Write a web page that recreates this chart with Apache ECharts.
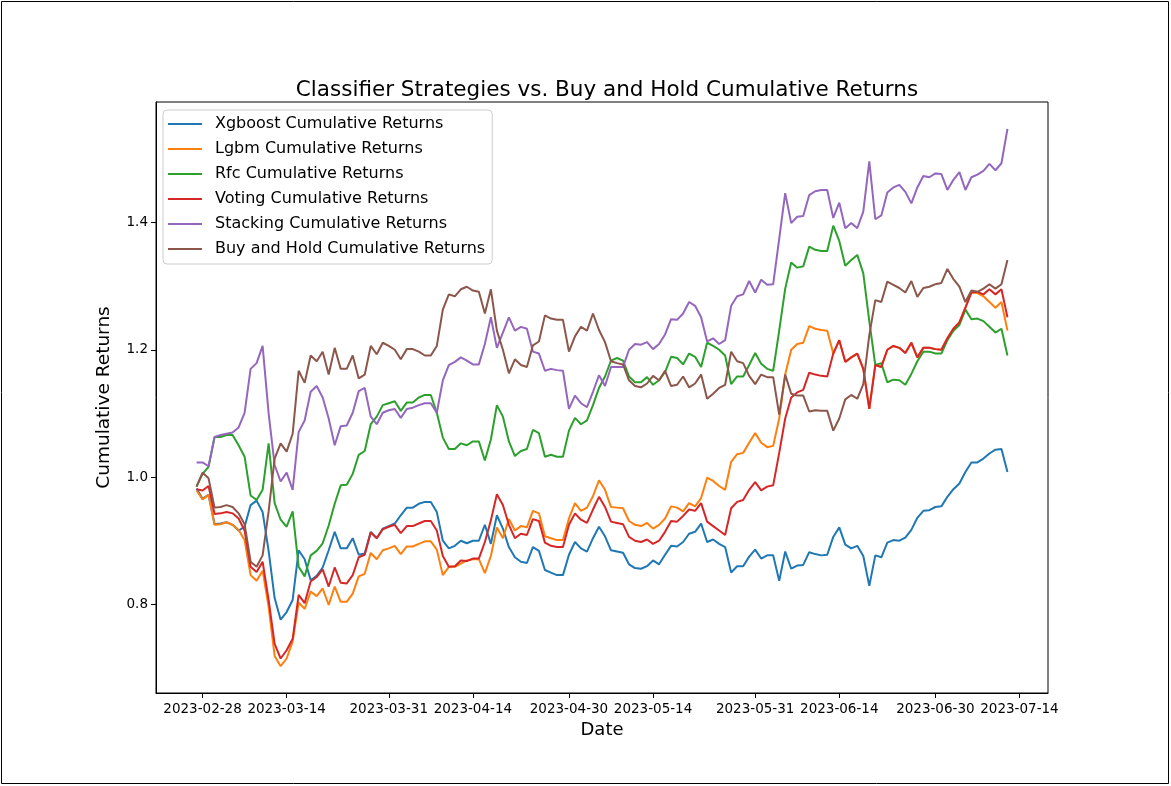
<!DOCTYPE html>
<html>
<head>
<meta charset="utf-8">
<script src="https://cdn.jsdelivr.net/npm/echarts@6/dist/echarts.min.js"></script>
<style>
  html, body { margin: 0; padding: 0; background: #fff; }
  #chart { width: 1171px; height: 786px; }
</style>
</head>
<body>
<div id="chart"></div>
<script>
// daily points, first one on 2023-02-27
const startDate = '2023-02-27';
const tickLabels = ['2023-02-28', '2023-03-14', '2023-03-31', '2023-04-14', '2023-04-30',
  '2023-05-14', '2023-05-31', '2023-06-14', '2023-06-30', '2023-07-14'];
const yTicks = [0.8, 1.0, 1.2, 1.4];

const xgboost = [0.982, 0.966, 0.972, 0.926, 0.927, 0.929, 0.925, 0.916, 0.922, 0.956, 0.963, 0.945,
  0.884, 0.810, 0.776, 0.788, 0.807, 0.885, 0.871, 0.838, 0.845, 0.858, 0.885, 0.914, 0.888, 0.888,
  0.904, 0.878, 0.880, 0.914, 0.904, 0.919, 0.923, 0.927, 0.940, 0.952, 0.952, 0.958, 0.961, 0.961,
  0.945, 0.900, 0.888, 0.892, 0.900, 0.896, 0.900, 0.900, 0.925, 0.895, 0.940, 0.919, 0.890, 0.874,
  0.867, 0.865, 0.890, 0.884, 0.854, 0.850, 0.846, 0.846, 0.878, 0.898, 0.888, 0.883, 0.904, 0.922,
  0.907, 0.885, 0.883, 0.881, 0.863, 0.857, 0.856, 0.860, 0.869, 0.863, 0.878, 0.892, 0.891, 0.898,
  0.911, 0.914, 0.927, 0.898, 0.902, 0.895, 0.890, 0.850, 0.860, 0.860, 0.875, 0.886, 0.872, 0.877,
  0.877, 0.837, 0.883, 0.856, 0.861, 0.862, 0.882, 0.879, 0.877, 0.878, 0.906, 0.921, 0.894, 0.888,
  0.892, 0.876, 0.829, 0.877, 0.874, 0.897, 0.901, 0.900, 0.905, 0.917, 0.936, 0.947, 0.948, 0.953,
  0.954, 0.969, 0.981, 0.990, 1.008, 1.023, 1.023, 1.029, 1.037, 1.043, 1.044, 1.008];

const lgbm = [0.979, 0.965, 0.972, 0.925, 0.926, 0.929, 0.925, 0.917, 0.901, 0.846, 0.837, 0.853,
  0.796, 0.719, 0.703, 0.715, 0.742, 0.803, 0.793, 0.820, 0.813, 0.825, 0.799, 0.828, 0.804, 0.804,
  0.817, 0.844, 0.848, 0.881, 0.871, 0.885, 0.888, 0.892, 0.879, 0.891, 0.891, 0.895, 0.899, 0.899,
  0.886, 0.846, 0.859, 0.859, 0.864, 0.869, 0.871, 0.871, 0.849, 0.876, 0.921, 0.904, 0.934, 0.916,
  0.923, 0.921, 0.947, 0.943, 0.907, 0.904, 0.901, 0.901, 0.935, 0.959, 0.947, 0.952, 0.970, 0.995,
  0.980, 0.953, 0.952, 0.951, 0.931, 0.925, 0.923, 0.928, 0.919, 0.925, 0.935, 0.954, 0.952, 0.946,
  0.959, 0.954, 0.967, 0.999, 0.994, 0.986, 0.980, 1.024, 1.036, 1.038, 1.054, 1.069, 1.054, 1.047,
  1.049, 1.092, 1.161, 1.200, 1.209, 1.211, 1.237, 1.233, 1.231, 1.230, 1.194, 1.215, 1.181, 1.188,
  1.194, 1.170, 1.107, 1.176, 1.173, 1.200, 1.206, 1.203, 1.195, 1.211, 1.188, 1.203, 1.203, 1.201,
  1.200, 1.218, 1.233, 1.243, 1.266, 1.290, 1.289, 1.284, 1.275, 1.266, 1.275, 1.230];

const rfc = [0.985, 1.005, 1.016, 1.063, 1.063, 1.066, 1.066, 1.050, 1.032, 0.971, 0.964, 0.980,
  1.053, 0.959, 0.933, 0.922, 0.946, 0.859, 0.844, 0.877, 0.884, 0.896, 0.924, 0.958, 0.987, 0.988,
  1.005, 1.035, 1.041, 1.083, 1.095, 1.113, 1.116, 1.119, 1.104, 1.117, 1.117, 1.125, 1.129, 1.129,
  1.101, 1.062, 1.044, 1.044, 1.053, 1.050, 1.056, 1.056, 1.026, 1.059, 1.113, 1.095, 1.056, 1.033,
  1.041, 1.044, 1.074, 1.069, 1.032, 1.035, 1.032, 1.032, 1.073, 1.093, 1.083, 1.089, 1.113, 1.140,
  1.158, 1.183, 1.187, 1.183, 1.158, 1.149, 1.149, 1.157, 1.145, 1.152, 1.165, 1.189, 1.187, 1.177,
  1.194, 1.189, 1.173, 1.211, 1.206, 1.200, 1.191, 1.146, 1.158, 1.158, 1.176, 1.195, 1.178, 1.170,
  1.167, 1.230, 1.296, 1.337, 1.329, 1.331, 1.362, 1.357, 1.355, 1.355, 1.395, 1.371, 1.332, 1.341,
  1.349, 1.320, 1.245, 1.176, 1.179, 1.149, 1.153, 1.152, 1.145, 1.162, 1.182, 1.197, 1.197, 1.194,
  1.194, 1.215, 1.230, 1.239, 1.263, 1.248, 1.249, 1.245, 1.236, 1.227, 1.233, 1.191];

const voting = [0.981, 0.979, 0.986, 0.942, 0.943, 0.945, 0.943, 0.935, 0.916, 0.859, 0.851, 0.867,
  0.807, 0.738, 0.715, 0.728, 0.746, 0.815, 0.802, 0.836, 0.843, 0.855, 0.828, 0.858, 0.834, 0.833,
  0.846, 0.874, 0.878, 0.913, 0.904, 0.918, 0.922, 0.925, 0.912, 0.923, 0.923, 0.927, 0.931, 0.931,
  0.916, 0.876, 0.859, 0.860, 0.869, 0.868, 0.872, 0.872, 0.898, 0.932, 0.973, 0.956, 0.925, 0.904,
  0.911, 0.909, 0.934, 0.931, 0.897, 0.892, 0.890, 0.890, 0.925, 0.943, 0.933, 0.928, 0.949, 0.969,
  0.953, 0.930, 0.928, 0.926, 0.906, 0.900, 0.898, 0.902, 0.895, 0.900, 0.914, 0.931, 0.930, 0.939,
  0.949, 0.947, 0.959, 0.930, 0.923, 0.916, 0.909, 0.951, 0.961, 0.964, 0.980, 0.992, 0.979, 0.985,
  0.987, 1.038, 1.092, 1.125, 1.133, 1.137, 1.164, 1.161, 1.159, 1.158, 1.194, 1.215, 1.181, 1.188,
  1.194, 1.170, 1.107, 1.176, 1.173, 1.200, 1.206, 1.203, 1.195, 1.211, 1.188, 1.203, 1.203, 1.201,
  1.200, 1.218, 1.233, 1.243, 1.266, 1.290, 1.291, 1.287, 1.295, 1.287, 1.295, 1.251];

const stacking = [1.023, 1.023, 1.017, 1.063, 1.066, 1.068, 1.070, 1.078, 1.101, 1.170, 1.179, 1.206,
  1.100, 1.019, 0.993, 1.007, 0.980, 1.071, 1.089, 1.134, 1.143, 1.125, 1.092, 1.050, 1.080, 1.081,
  1.101, 1.135, 1.140, 1.095, 1.083, 1.101, 1.105, 1.107, 1.093, 1.107, 1.109, 1.113, 1.116, 1.116,
  1.101, 1.152, 1.176, 1.181, 1.188, 1.183, 1.177, 1.177, 1.209, 1.251, 1.203, 1.227, 1.251, 1.230,
  1.236, 1.233, 1.197, 1.194, 1.167, 1.170, 1.168, 1.167, 1.107, 1.128, 1.116, 1.110, 1.134, 1.160,
  1.143, 1.173, 1.173, 1.173, 1.200, 1.209, 1.208, 1.212, 1.201, 1.209, 1.224, 1.248, 1.247, 1.257,
  1.275, 1.269, 1.251, 1.213, 1.218, 1.209, 1.215, 1.269, 1.284, 1.287, 1.308, 1.290, 1.310, 1.302,
  1.303, 1.374, 1.446, 1.399, 1.409, 1.410, 1.443, 1.449, 1.451, 1.451, 1.407, 1.431, 1.391, 1.399,
  1.391, 1.417, 1.496, 1.405, 1.411, 1.447, 1.455, 1.459, 1.448, 1.430, 1.455, 1.473, 1.471, 1.477,
  1.476, 1.451, 1.467, 1.479, 1.451, 1.471, 1.475, 1.481, 1.492, 1.482, 1.493, 1.547];

const buyHold = [0.985, 1.007, 0.998, 0.952, 0.953, 0.956, 0.953, 0.943, 0.926, 0.867, 0.859, 0.877,
  0.946, 1.029, 1.053, 1.040, 1.068, 1.167, 1.148, 1.191, 1.182, 1.197, 1.161, 1.203, 1.170, 1.170,
  1.191, 1.155, 1.161, 1.206, 1.193, 1.211, 1.206, 1.200, 1.185, 1.201, 1.201, 1.197, 1.191, 1.191,
  1.206, 1.263, 1.287, 1.284, 1.295, 1.299, 1.293, 1.291, 1.257, 1.295, 1.230, 1.200, 1.163, 1.185,
  1.176, 1.173, 1.207, 1.213, 1.254, 1.249, 1.247, 1.247, 1.197, 1.221, 1.236, 1.230, 1.257, 1.231,
  1.212, 1.182, 1.179, 1.177, 1.152, 1.143, 1.141, 1.147, 1.159, 1.152, 1.167, 1.143, 1.145, 1.158,
  1.141, 1.147, 1.161, 1.123, 1.131, 1.140, 1.145, 1.197, 1.182, 1.179, 1.159, 1.146, 1.161, 1.157,
  1.157, 1.098, 1.161, 1.131, 1.128, 1.128, 1.103, 1.105, 1.104, 1.104, 1.073, 1.092, 1.122, 1.129,
  1.123, 1.146, 1.223, 1.278, 1.275, 1.307, 1.302, 1.297, 1.290, 1.308, 1.283, 1.297, 1.299, 1.303,
  1.305, 1.327, 1.311, 1.299, 1.275, 1.293, 1.291, 1.296, 1.303, 1.296, 1.303, 1.341];

const seriesNames = ['Xgboost Cumulative Returns', 'Lgbm Cumulative Returns', 'Rfc Cumulative Returns',
  'Voting Cumulative Returns', 'Stacking Cumulative Returns', 'Buy and Hold Cumulative Returns'];
const seriesData = [xgboost, lgbm, rfc, voting, stacking, buyHold];
const colors = ['#1f77b4', '#ff7f0e', '#2ca02c', '#d62728', '#9467bd', '#8c564b'];

const DAY = 86400000;
const t0 = Date.parse(startDate);
const dates = xgboost.map((_, i) => t0 + i * DAY);
const xTicks = tickLabels.map(s => Date.parse(s));

// matplotlib style 5% margins
const xSpan = dates[dates.length - 1] - dates[0];
const allVals = [].concat(...seriesData);
const yLo = Math.min(...allVals), yHi = Math.max(...allVals);
const ySpan = yHi - yLo;

const font = 'DejaVu Sans';
const chart = echarts.init(document.getElementById('chart'));

chart.setOption({
  animation: false,
  color: colors,
  title: {
    text: 'Classifier Strategies vs. Buy and Hold Cumulative Returns',
    left: 602, top: 74, textAlign: 'center',
    textStyle: { fontFamily: font, fontSize: 21.5, fontWeight: 'normal', color: '#000' }
  },
  legend: {
    orient: 'vertical',
    left: 163, top: 110,
    padding: [5, 7, 6, 5],
    itemWidth: 34, itemHeight: 2, itemGap: 7,
    icon: 'rect',
    backgroundColor: 'rgba(255,255,255,0.8)',
    borderColor: '#cccccc', borderWidth: 1, borderRadius: 4,
    textStyle: { fontFamily: font, fontSize: 16, color: '#000', lineHeight: 18, padding: [0, 0, 0, 8] },
    data: seriesNames
  },
  grid: {
    left: 156, right: 123, top: 102, bottom: 93,
    show: true, borderColor: '#000', borderWidth: 1, backgroundColor: 'transparent'
  },
  xAxis: {
    type: 'value',
    min: dates[0] - xSpan * 0.05,
    max: dates[dates.length - 1] + xSpan * 0.05,
    name: 'Date', nameLocation: 'middle', nameGap: 27,
    nameTextStyle: { fontFamily: font, fontSize: 18, color: '#000' },
    axisLine: { show: true, lineStyle: { color: '#000', width: 1 } },
    axisTick: { show: true, length: 5, lineStyle: { color: '#000' }, customValues: xTicks },
    axisLabel: {
      fontFamily: font, fontSize: 13.5, color: '#000', margin: 9,
      customValues: xTicks,
      formatter: v => new Date(v).toISOString().slice(0, 10)
    },
    splitLine: { show: false }
  },
  yAxis: {
    type: 'value',
    min: yLo - ySpan * 0.05,
    max: yHi + ySpan * 0.05,
    name: 'Cumulative Returns', nameLocation: 'middle', nameGap: 42,
    nameTextStyle: { fontFamily: font, fontSize: 18.5, color: '#000' },
    axisLine: { show: true, lineStyle: { color: '#000', width: 1 } },
    axisTick: { show: true, length: 5, lineStyle: { color: '#000' }, customValues: yTicks },
    axisLabel: {
      fontFamily: font, fontSize: 13.5, color: '#000', margin: 8,
      customValues: yTicks,
      formatter: v => v.toFixed(1)
    },
    splitLine: { show: false }
  },
  graphic: [{
    type: 'rect', silent: true,
    shape: { x: 1.5, y: 1.5, width: 1167, height: 782 },
    style: { fill: 'none', stroke: '#000', lineWidth: 1 }
  }],
  series: seriesNames.map((name, k) => ({
    name: name,
    type: 'line',
    showSymbol: false,
    symbol: 'none',
    data: dates.map((t, i) => [t, seriesData[k][i]]),
    lineStyle: { width: 2, color: colors[k] },
    itemStyle: { color: colors[k] }
  }))
});
</script>
</body>
</html>
